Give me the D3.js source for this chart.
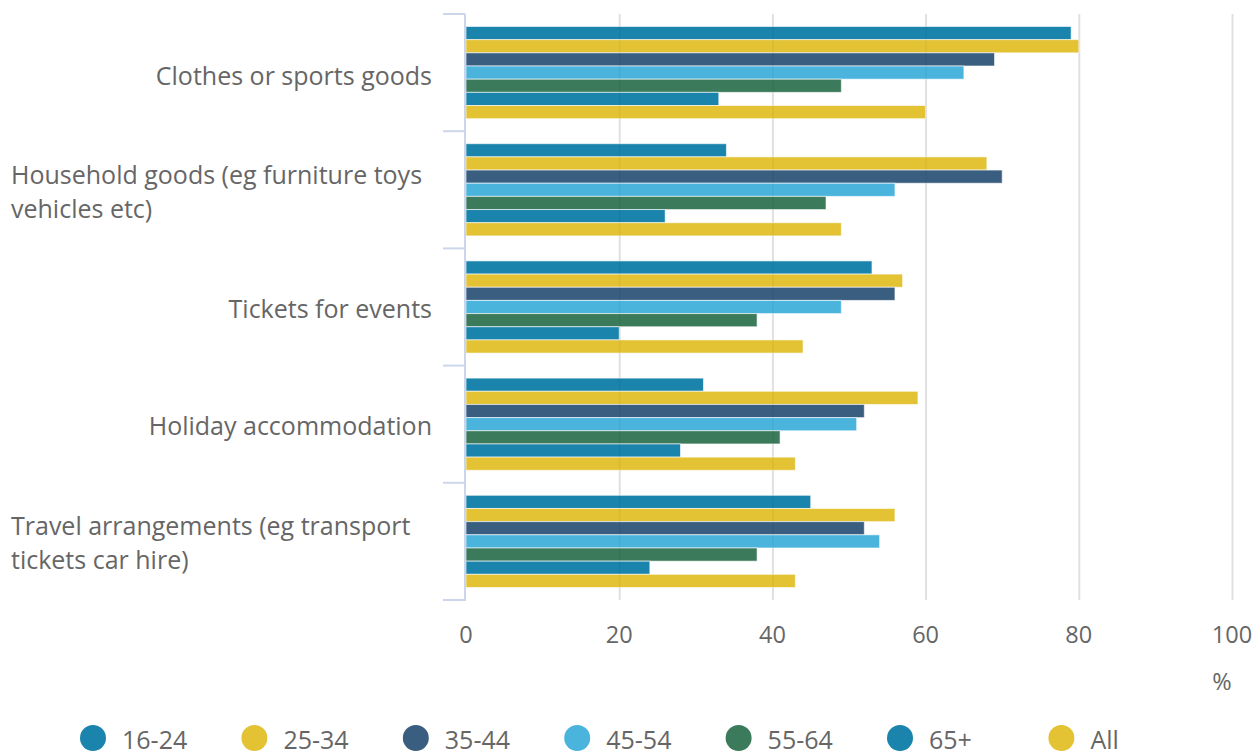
<!DOCTYPE html>
<html><head><meta charset="utf-8">
<script src="https://cdn.jsdelivr.net/npm/d3@7"></script>
<style>
html,body{margin:0;padding:0;background:#fff;}
svg{display:block;font-family:"Open Sans",sans-serif;}
</style></head>
<body><svg id="c" width="1257" height="756"></svg>
<script>
const categories = [
  ["Clothes or sports goods"],
  ["Household goods (eg furniture toys", "vehicles etc)"],
  ["Tickets for events"],
  ["Holiday accommodation"],
  ["Travel arrangements (eg transport", "tickets car hire)"]
];
const seriesNames = ["16-24", "25-34", "35-44", "45-54", "55-64", "65+", "All"];
const seriesColors = ["#1a84ac", "#e3c234", "#3a5e80", "#4ab4dd", "#3b7a5b", "#1a84ac", "#e3c234"];
const s1624 = [79, 34, 53, 31, 45];
const s2534 = [80, 68, 57, 59, 56];
const s3544 = [69, 70, 56, 52, 52];
const s4554 = [65, 56, 49, 51, 54];
const s5564 = [49, 47, 38, 41, 38];
const s65p  = [33, 26, 20, 28, 24];
const sAll  = [60, 49, 44, 43, 43];
const seriesValues = [s1624, s2534, s3544, s4554, s5564, s65p, sAll];
const xTicks = [0, 20, 40, 60, 80, 100];
const unitLabel = "%";

const svg = d3.select("#c");
const pLeft = 466, pRight = 1232, pTop = 14, pBottom = 600;
const x = d3.scaleLinear().domain([0, 100]).range([pLeft, pRight]);
const y = d3.scaleBand().domain(d3.range(categories.length)).range([pTop, pBottom]).paddingInner(0).paddingOuter(0);
const inner = d3.scaleBand().domain(d3.range(seriesNames.length)).range([0, y.bandwidth()]).paddingInner(0).paddingOuter(0.95);

// grid
svg.append("g").selectAll("line").data(xTicks.slice(1)).join("line")
  .attr("x1", d => x(d) + 0.5).attr("x2", d => x(d) + 0.5)
  .attr("y1", pTop).attr("y2", pBottom)
  .attr("stroke", "#e9e9e9").attr("stroke-width", 2);

// bars
const groups = svg.append("g").selectAll("g").data(categories).join("g")
  .attr("transform", (d, i) => `translate(0,${y(i)})`);
groups.each(function(c, ci) {
  d3.select(this).selectAll("rect").data(seriesValues.map((s, si) => ({si, v: s[ci]}))).join("rect")
    .attr("x", x(0))
    .attr("y", d => inner(d.si))
    .attr("width", d => x(d.v) - x(0))
    .attr("height", inner.bandwidth())
    .attr("fill", d => seriesColors[d.si])
    .attr("stroke", "#ffffff").attr("stroke-width", 1).attr("stroke-opacity", 0.6);
});

// grid showing faintly through bars
svg.append("g").selectAll("line").data(xTicks.slice(1)).join("line")
  .attr("x1", d => x(d) + 0.5).attr("x2", d => x(d) + 0.5)
  .attr("y1", pTop).attr("y2", pBottom)
  .attr("stroke", "#000").attr("stroke-opacity", 0.035).attr("stroke-width", 2);

// left axis
const ax = svg.append("g");
ax.append("line").attr("x1", pLeft - 1).attr("x2", pLeft - 1).attr("y1", pTop).attr("y2", pBottom + 1)
  .attr("stroke", "#ccd6eb").attr("stroke-width", 2);
const boundaries = d3.range(categories.length + 1).map(i => i < categories.length ? y(i) : y(i - 1) + y.bandwidth());
ax.selectAll(".t").data(boundaries).join("line")
  .attr("x1", pLeft - 23).attr("x2", pLeft - 1).attr("y1", d => d).attr("y2", d => d)
  .attr("stroke", "#ccd6eb").attr("stroke-width", 2);

// category labels
const labelRight = 432;
categories.forEach((lines, i) => {
  const cy = y(i) + y.bandwidth() / 2 + (i === 0 ? 4 : 2);
  const lh = 34;
  const t = svg.append("text").attr("fill", "#666666").style("font-size", "25px");
  const ts = lines.map((ln, k) => t.append("tspan").text(ln)
    .attr("y", cy + (k - (lines.length - 1) / 2) * lh).attr("dy", "0.35em"));
  if (lines.length > 1) {
    ts.forEach(s => s.attr("x", 11));
  } else {
    const w = ts[0].node().getComputedTextLength();
    ts[0].attr("x", labelRight - w);
  }
});

// x tick labels
svg.append("g").selectAll("text").data(xTicks).join("text")
  .attr("x", d => x(d)).attr("y", 643)
  .attr("text-anchor", "middle")
  .attr("fill", "#666666").style("font-size", "23.5px")
  .text(d => d);
svg.append("text").attr("x", 1222).attr("y", 690)
  .attr("text-anchor", "middle").attr("fill", "#666666").style("font-size", "23.5px").text(unitLabel);

// legend
const lg = svg.append("g").selectAll("g").data(seriesNames).join("g")
  .attr("transform", (d, i) => `translate(${93 + i * 161.4},738)`);
lg.append("circle").attr("r", 13).attr("fill", (d, i) => seriesColors[i]);
lg.append("text").attr("x", 29).attr("y", 11).attr("fill", "#666666")
  .style("font-size", "25px").text(d => d);
</script></body></html>
